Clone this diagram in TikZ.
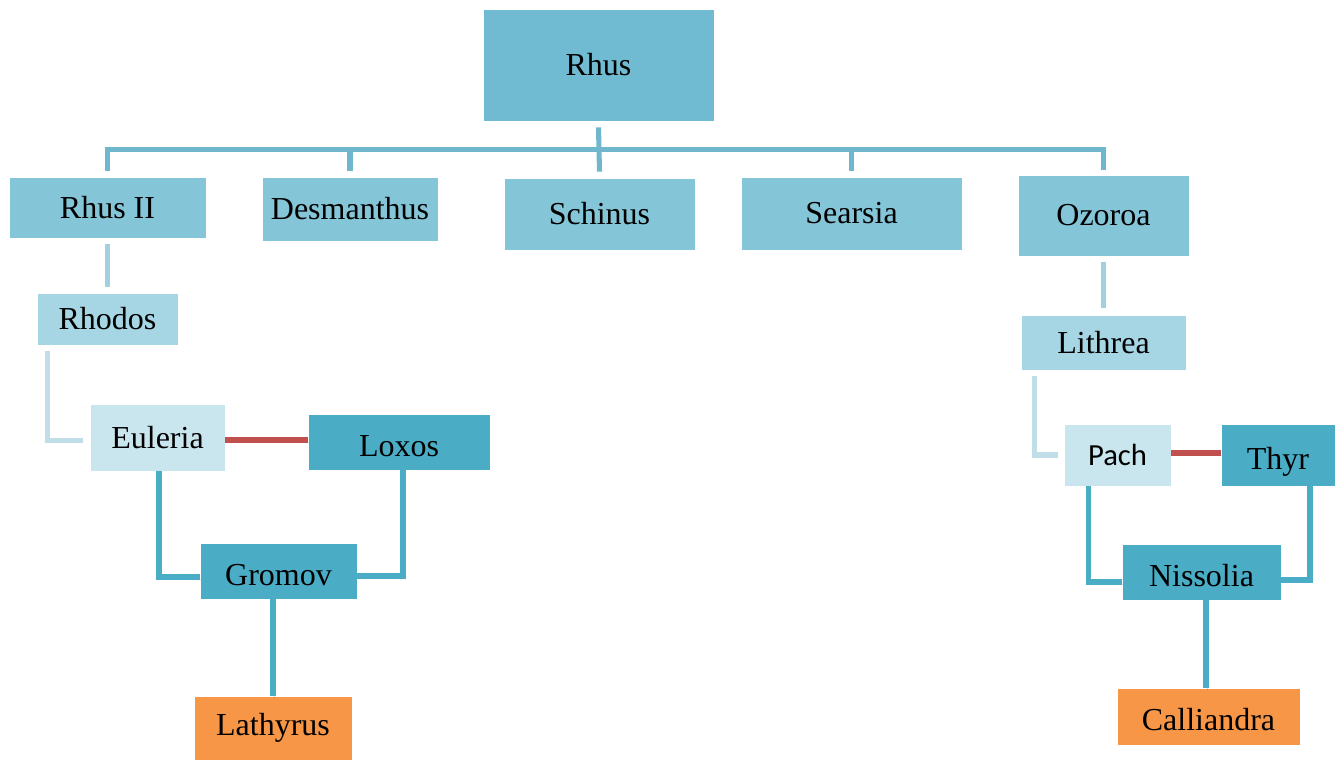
\documentclass[tikz,border=0pt]{standalone}
\usepackage{fontspec}
\setmainfont{Liberation Serif}
\newfontfamily\calfont{Carlito}
\usetikzlibrary{calc}

\definecolor{rootblue}{HTML}{70BBD1}
\definecolor{midblue}{HTML}{84C5D7}
\definecolor{paleblue}{HTML}{A6D5E3}
\definecolor{lightblue}{HTML}{C9E5EE}
\definecolor{deepblue}{HTML}{4BACC6}
\definecolor{boxorange}{HTML}{F79646}
\definecolor{topline}{HTML}{70B7CD}
\definecolor{paleline}{HTML}{A3D0DF}
\definecolor{lightline}{HTML}{C1DEE8}
\definecolor{linkred}{HTML}{C0504D}

\tikzset{
  box/.style={rectangle, inner sep=0pt, draw=white, line width=0.6pt,
    font=\fontsize{24}{27}\selectfont, text=black},
  lowtext/.style={text height=21pt, text depth=0pt},
  rootbox/.style={box, fill=rootblue},
  midbox/.style={box, fill=midblue},
  palebox/.style={box, fill=paleblue},
  lightbox/.style={box, fill=lightblue},
  deepbox/.style={box, fill=deepblue, lowtext},
  orangebox/.style={box, fill=boxorange},
  shade/.style={preaction={draw=black, opacity=0.13,
    transform canvas={xshift=1pt, yshift=-1.5pt}}},
  wire/.style={line width=3.8pt},
  topwire/.style={wire, draw=topline},
  palewire/.style={wire, draw=paleline},
  lightwire/.style={wire, draw=lightline},
  deepwire/.style={wire, draw=deepblue, shade},
  redwire/.style={wire, draw=linkred, shade},
}

\begin{document}
\begin{tikzpicture}[x=0.75pt, y=-0.75pt]
\useasboundingbox (0,0) rectangle (1344,760);

% boxes
\node[rootbox, minimum width=231*0.75pt, minimum height=112*0.75pt] (rhus) at (598.5,65) {Rhus};
\node[midbox, minimum width=197*0.75pt, minimum height=61*0.75pt] (rhusii) at (107.5,207.5) {Rhus II};
\node[midbox, minimum width=176*0.75pt, minimum height=64*0.75pt] (desm) at (350,209) {Desmanthus};
\node[midbox, minimum width=191*0.75pt, minimum height=72*0.75pt] (schinus) at (599.5,214) {Schinus};
\node[midbox, minimum width=221*0.75pt, minimum height=73*0.75pt] (searsia) at (851.5,213.5) {Searsia};
\node[midbox, minimum width=171*0.75pt, minimum height=81*0.75pt] (ozoroa) at (1103.5,215.5) {Ozoroa};

\node[palebox, minimum width=141*0.75pt, minimum height=52*0.75pt] (rhodos) at (107.5,319) {Rhodos};
\node[lightbox, minimum width=135*0.75pt, minimum height=67*0.75pt] (euleria) at (157.5,437.5) {Euleria};
\node[deepbox, minimum width=182*0.75pt, minimum height=56*0.75pt] (loxos) at (399,442) {Loxos};
\node[deepbox, minimum width=157*0.75pt, minimum height=56*0.75pt] (gromov) at (278.5,571) {Gromov};
\node[orangebox, minimum width=158*0.75pt, minimum height=64*0.75pt] (lathyrus) at (273,728) {Lathyrus};

\node[palebox, minimum width=165*0.75pt, minimum height=55*0.75pt] (lithrea) at (1103.5,342.5) {Lithrea};
\node[lightbox, minimum width=107*0.75pt, minimum height=62*0.75pt, font=\calfont\fontsize{23}{27}\selectfont] (pach) at (1117.5,455) {Pach};
\node[deepbox, minimum width=114*0.75pt, minimum height=62*0.75pt] (thyr) at (1278,455) {Thyr};
\node[deepbox, minimum width=159*0.75pt, minimum height=56*0.75pt] (nissolia) at (1201.5,572) {Nissolia};
\node[orangebox, lowtext, minimum width=183*0.75pt, minimum height=57*0.75pt] (calliandra) at (1208.5,716.5) {Calliandra};

% top level bracket
\coordinate (bar) at ($(rhus.south)+(0,28)$);
\draw[topwire] ($(rhus.south)+(0,6)$) -- ($(schinus.north)+(0,-6)$);
\draw[topwire, line join=miter] ($(rhusii.north)+(0,-6)$) |- (bar) -| ($(ozoroa.north)+(0,-5)$);
\draw[topwire] ($(desm.north)+(0,-6)$) -- (desm.north |- bar);
\draw[topwire] ($(searsia.north)+(0,-6)$) -- (searsia.north |- bar);

% left branch
\draw[palewire] ($(rhusii.south)+(0,6)$) -- ($(rhodos.north)+(0,-6)$);
\draw[lightwire] ($(rhodos.south west)+(11,6)$) |- ($(euleria.west)+(-7,3)$);
\draw[redwire] ($(euleria.east)+(0,2.5)$) coordinate (r1) -- (r1 -| loxos.west);
\draw[deepwire] ($(euleria.south)+(1.5,0)$) |- ($(gromov.west)+(0,6)$);
\draw[deepwire] ($(loxos.south)+(4,0)$) |- ($(gromov.east)+(0,5)$);
\draw[deepwire] (lathyrus.north |- gromov.south) -- (lathyrus.north);

% right branch
\draw[palewire] ($(ozoroa.south)+(0,6)$) -- ($(lithrea.north)+(0,-7)$);
\draw[lightwire] ($(lithrea.south west)+(14,6)$) |- ($(pach.west)+(-6,0)$);
\draw[redwire] ($(pach.east)+(0,-2)$) coordinate (r2) -- (r2 -| thyr.west);
\draw[deepwire] ($(pach.south west)+(25,0)$) |- ($(nissolia.west)+(0,10)$);
\draw[deepwire] ($(thyr.south)+(32,0)$) |- ($(nissolia.east)+(0,8)$);
\draw[deepwire] ($(nissolia.south)+(4.5,0)$) coordinate (n1) -- (n1 |- calliandra.north);
\end{tikzpicture}
\end{document}
